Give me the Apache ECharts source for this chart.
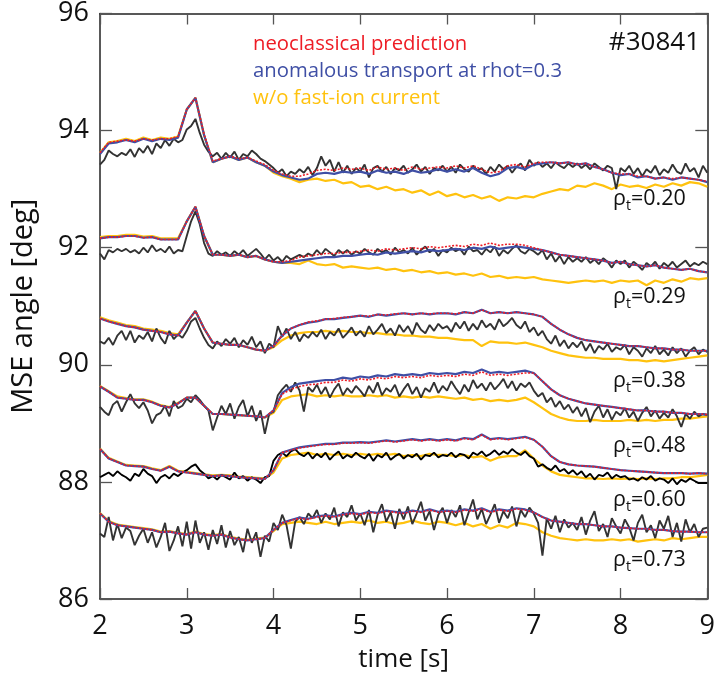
<!DOCTYPE html>
<html>
<head>
<meta charset="utf-8">
<script src="https://cdn.jsdelivr.net/npm/echarts@6/dist/echarts.min.js"></script>
<style>
html,body{margin:0;padding:0;background:#fff;}
#chart{width:718px;height:678px;}
</style>
</head>
<body>
<div id="chart"></div>
<script>
// time grid settings
const T0 = 2, DT_MEAS = 0.05, DT_MODEL = 0.1;
const xTicks = [2, 3, 4, 5, 6, 7, 8, 9];
const yTicks = [86, 88, 90, 92, 94, 96];
const rhoLabels = ['0.20', '0.29', '0.38', '0.48', '0.60', '0.73'];
const legendTexts = ['neoclassical prediction', 'anomalous transport at rhot=0.3', 'w/o fast-ion current'];
const shotLabel = '#30841';

// ---------- rho_t = 0.20 ----------
const g1Meas = [
93.42,93.50,93.66,93.60,93.56,93.62,93.58,93.68,93.55,93.70,
93.62,93.74,93.60,93.78,93.70,93.84,93.74,93.86,93.80,93.84,
94.02,94.08,94.20,93.96,93.76,93.64,93.56,93.62,93.52,93.62,
93.54,93.64,93.50,93.60,93.56,93.66,93.60,93.52,93.48,93.42,
93.36,93.28,93.34,93.22,93.30,93.26,93.34,93.28,93.38,93.24,
93.36,93.56,93.40,93.50,93.30,93.46,93.28,93.40,93.26,93.36,
93.30,93.42,93.20,93.36,93.40,93.30,93.38,93.26,93.36,93.32,
93.40,93.28,93.34,93.42,93.30,93.38,93.26,93.36,93.32,93.40,
93.30,93.38,93.28,93.42,93.34,93.30,93.40,93.32,93.36,93.26,
93.38,93.30,93.42,93.34,93.40,93.28,93.38,93.44,93.32,93.50,
93.40,93.46,93.38,93.44,93.36,93.46,93.40,93.36,93.44,93.38,
93.44,93.36,93.42,93.34,93.44,93.38,93.32,93.40,93.36,93.00,
93.36,93.30,93.40,93.26,93.36,93.22,93.34,93.28,93.40,93.24,
93.34,93.28,93.42,93.30,93.26,93.44,93.30,93.36,93.20,93.40,
93.28];
const g1Neo = [
93.62,93.80,93.82,93.84,93.82,93.86,93.84,93.86,93.86,93.90,
94.36,94.56,93.94,93.48,93.52,93.56,93.52,93.54,93.48,93.42,
93.32,93.26,93.22,93.22,93.26,93.32,93.34,93.32,93.36,93.34,
93.36,93.32,93.38,93.34,93.36,93.32,93.38,93.34,93.36,93.38,
93.36,93.40,93.36,93.40,93.34,93.28,93.30,93.40,93.42,93.38,
93.44,93.46,93.46,93.44,93.46,93.42,93.44,93.38,93.34,93.28,
93.26,93.26,93.22,93.22,93.18,93.20,93.18,93.20,93.18,93.16,
93.13];
const g1Anom = [
93.60,93.78,93.80,93.84,93.80,93.86,93.82,93.86,93.84,93.88,
94.36,94.56,93.92,93.46,93.52,93.56,93.50,93.54,93.46,93.40,
93.30,93.24,93.20,93.16,93.18,93.26,93.28,93.26,93.30,93.28,
93.30,93.26,93.32,93.28,93.30,93.26,93.32,93.28,93.30,93.34,
93.30,93.34,93.30,93.36,93.28,93.22,93.26,93.36,93.38,93.34,
93.42,93.44,93.46,93.44,93.46,93.42,93.44,93.38,93.34,93.28,
93.24,93.26,93.20,93.22,93.18,93.20,93.16,93.20,93.18,93.16,
93.12];
const g1NoFI = [
93.62,93.80,93.82,93.86,93.82,93.88,93.84,93.88,93.86,93.90,
94.36,94.56,93.92,93.46,93.52,93.56,93.50,93.54,93.46,93.40,
93.28,93.22,93.18,93.12,93.16,93.18,93.14,93.16,93.10,93.12,
93.04,93.06,93.00,93.04,92.98,93.00,92.94,92.98,92.90,92.96,
92.88,92.92,92.86,92.90,92.84,92.88,92.80,92.86,92.84,92.88,
92.86,92.92,92.96,93.00,92.98,93.06,93.04,93.10,93.06,93.00,
93.08,93.04,93.06,93.02,93.08,93.04,93.10,93.06,93.12,93.10,
93.04];

// ---------- rho_t = 0.29 ----------
const g2Meas = [
91.90,91.80,91.96,91.92,91.98,91.94,91.98,91.92,91.96,91.90,
92.00,91.92,92.04,91.94,91.98,91.92,92.02,91.90,91.96,91.94,
92.20,92.45,92.62,92.40,92.08,91.90,91.86,91.94,91.88,91.92,
91.86,91.94,91.88,91.96,91.86,91.92,91.98,91.90,91.80,91.88,
91.78,91.84,91.76,91.86,91.80,91.84,91.88,91.84,91.90,91.86,
91.96,91.88,91.98,91.92,91.86,91.96,91.90,91.96,91.88,91.94,
91.90,91.98,91.92,91.88,91.98,91.92,91.96,91.88,92.00,91.92,
91.96,91.90,92.00,91.88,91.96,92.02,91.92,91.98,91.86,91.96,
91.92,92.00,91.94,91.98,91.88,92.02,91.94,91.96,91.88,91.98,
91.92,92.02,91.86,91.96,91.90,91.98,92.04,91.94,91.90,91.98,
91.94,91.88,91.96,91.80,91.90,91.76,91.86,91.72,91.84,91.76,
91.82,91.76,91.84,91.74,91.80,91.72,91.82,91.76,91.66,91.78,
91.72,91.78,91.66,91.76,91.70,91.62,91.74,91.68,91.76,91.64,
91.74,91.68,91.76,91.66,91.72,91.78,91.68,91.74,91.70,91.76,
91.72];
const g2Neo = [
92.16,92.18,92.18,92.20,92.20,92.17,92.18,92.14,92.14,92.14,
92.45,92.70,92.20,91.88,91.88,91.86,91.88,91.84,91.86,91.80,
91.76,91.76,91.78,91.84,91.86,91.88,91.90,91.90,91.92,91.92,
91.94,91.96,91.94,91.98,91.96,91.98,92.00,91.98,92.02,92.00,
92.02,92.04,92.02,92.06,92.04,92.08,92.04,92.06,92.06,92.04,
92.00,91.96,91.92,91.88,91.86,91.84,91.82,91.80,91.78,91.74,
91.76,91.72,91.70,91.68,91.70,91.66,91.64,91.62,91.64,91.60,
91.58];
const g2Anom = [
92.16,92.18,92.18,92.20,92.20,92.17,92.18,92.14,92.14,92.14,
92.45,92.70,92.20,91.88,91.88,91.86,91.88,91.84,91.86,91.80,
91.76,91.74,91.76,91.78,91.80,91.82,91.84,91.84,91.86,91.86,
91.88,91.90,91.88,91.92,91.90,91.92,91.94,91.92,91.96,91.94,
91.96,91.98,91.96,92.00,91.98,92.02,91.98,92.00,92.02,92.00,
91.98,91.96,91.92,91.88,91.86,91.84,91.82,91.80,91.78,91.74,
91.76,91.72,91.70,91.68,91.70,91.66,91.64,91.62,91.64,91.60,
91.58];
const g2NoFI = [
92.18,92.20,92.20,92.22,92.22,92.19,92.20,92.16,92.16,92.16,
92.45,92.70,92.20,91.88,91.88,91.86,91.88,91.84,91.86,91.80,
91.76,91.74,91.74,91.72,91.78,91.72,91.70,91.72,91.66,91.68,
91.66,91.64,91.66,91.62,91.64,91.60,91.62,91.58,91.60,91.56,
91.58,91.54,91.56,91.52,91.56,91.50,91.52,91.48,91.50,91.48,
91.50,91.46,91.44,91.42,91.40,91.42,91.44,91.42,91.44,91.40,
91.44,91.42,91.44,91.36,91.44,91.40,91.46,91.42,91.48,91.46,
91.48];

// ---------- rho_t = 0.38 ----------
const g3Meas = [
90.40,90.36,90.46,90.34,90.50,90.58,90.42,90.58,90.38,90.50,
90.44,90.56,90.40,90.62,90.46,90.36,90.58,90.44,90.52,90.46,
90.58,90.74,90.80,90.62,90.46,90.34,90.28,90.40,90.32,90.44,
90.36,90.46,90.30,90.42,90.34,90.48,90.30,90.40,90.20,90.36,
90.30,90.66,90.48,90.62,90.44,90.56,90.40,90.52,90.46,90.56,
90.48,90.60,90.44,90.56,90.50,90.62,90.46,90.54,90.64,90.50,
90.58,90.48,90.66,90.52,90.60,90.70,90.54,90.62,90.50,90.68,
90.56,90.66,90.52,90.72,90.60,90.54,90.68,90.58,90.70,90.62,
90.66,90.56,90.72,90.62,90.74,90.58,90.70,90.60,90.76,90.64,
90.70,90.60,90.78,90.66,90.72,90.80,90.68,90.62,90.74,90.56,
90.64,90.50,90.58,90.44,90.36,90.50,90.32,90.42,90.28,90.38,
90.30,90.40,90.24,90.36,90.20,90.32,90.26,90.36,90.22,90.30,
90.26,90.34,90.18,90.30,90.24,90.14,90.28,90.20,90.32,90.18,
90.26,90.16,90.30,90.20,90.28,90.14,90.24,90.30,90.18,90.26,
90.22];
const g3Neo = [
90.79,90.74,90.70,90.66,90.64,90.60,90.58,90.56,90.52,90.50,
90.72,90.92,90.62,90.38,90.36,90.34,90.34,90.30,90.26,90.24,
90.32,90.50,90.62,90.68,90.73,90.75,90.78,90.79,90.81,90.82,
90.84,90.83,90.86,90.85,90.87,90.88,90.86,90.88,90.87,90.88,
90.88,90.87,90.90,90.88,90.94,90.88,90.90,90.88,90.90,90.88,
90.86,90.82,90.70,90.60,90.52,90.46,90.42,90.40,90.38,90.36,
90.34,90.32,90.32,90.30,90.28,90.28,90.26,90.26,90.24,90.24,
90.24];
const g3Anom = [
90.79,90.74,90.70,90.66,90.64,90.60,90.58,90.56,90.52,90.50,
90.72,90.92,90.62,90.38,90.36,90.34,90.34,90.30,90.26,90.24,
90.32,90.50,90.62,90.68,90.72,90.74,90.78,90.78,90.80,90.82,
90.84,90.82,90.86,90.84,90.86,90.88,90.86,90.88,90.86,90.88,
90.88,90.86,90.90,90.88,90.94,90.88,90.90,90.88,90.90,90.88,
90.86,90.82,90.70,90.60,90.52,90.46,90.42,90.40,90.38,90.36,
90.34,90.32,90.32,90.30,90.28,90.28,90.26,90.26,90.24,90.24,
90.24];
const g3NoFI = [
90.81,90.76,90.72,90.68,90.66,90.62,90.60,90.58,90.54,90.52,
90.72,90.92,90.62,90.38,90.36,90.34,90.34,90.30,90.26,90.24,
90.30,90.42,90.50,90.54,90.56,90.56,90.58,90.56,90.58,90.56,
90.56,90.54,90.54,90.52,90.52,90.50,90.50,90.48,90.48,90.46,
90.46,90.44,90.42,90.42,90.32,90.40,90.38,90.38,90.36,90.38,
90.34,90.30,90.24,90.20,90.16,90.14,90.12,90.12,90.10,90.10,
90.10,90.08,90.08,90.06,90.08,90.06,90.08,90.10,90.12,90.14,
90.16];

// ---------- rho_t = 0.48 ----------
const g4Meas = [
89.28,89.20,89.14,89.32,89.38,89.20,89.36,89.50,89.34,89.26,
89.36,89.22,89.00,89.14,89.18,89.30,89.12,89.38,89.26,89.30,
89.42,89.36,89.48,89.40,89.30,89.22,88.88,89.10,89.30,89.16,
89.34,89.08,89.28,89.40,89.12,89.30,89.04,89.22,88.82,89.16,
89.20,89.48,89.58,89.66,89.54,89.70,89.56,89.20,89.62,89.54,
89.66,89.50,89.62,89.44,89.58,89.68,89.48,89.60,89.52,89.64,
89.56,89.46,89.64,89.52,89.70,89.48,89.60,89.54,89.66,89.46,
89.58,89.68,89.50,89.62,89.44,89.60,89.54,89.70,89.52,89.64,
89.56,89.72,89.60,89.50,89.66,89.54,89.74,89.60,89.68,89.56,
89.70,89.58,89.66,89.76,89.60,89.72,89.56,89.68,89.62,89.70,
89.56,89.46,89.52,89.36,89.44,89.28,89.38,89.24,89.32,89.18,
89.28,89.12,89.26,89.02,89.20,89.30,89.10,89.24,89.06,89.20,
89.14,89.26,89.10,89.20,89.04,89.18,89.28,89.12,89.22,89.08,
89.18,89.10,89.24,89.12,88.94,89.16,89.08,89.20,89.12,89.16,
89.14];
const g4Neo = [
89.63,89.54,89.44,89.42,89.40,89.40,89.36,89.30,89.27,89.34,
89.44,89.44,89.30,89.16,89.16,89.15,89.14,89.13,89.12,89.10,
89.22,89.50,89.58,89.63,89.66,89.67,89.70,89.70,89.74,89.72,
89.76,89.74,89.78,89.76,89.80,89.78,89.80,89.78,89.82,89.80,
89.82,89.80,89.84,89.82,89.88,89.82,89.84,89.82,89.84,89.86,
89.86,89.72,89.58,89.48,89.42,89.38,89.34,89.32,89.30,89.28,
89.26,89.24,89.22,89.22,89.20,89.20,89.18,89.18,89.16,89.16,
89.15];
const g4Anom = [
89.63,89.54,89.44,89.42,89.40,89.40,89.36,89.30,89.27,89.34,
89.44,89.44,89.30,89.16,89.16,89.15,89.14,89.13,89.12,89.10,
89.22,89.52,89.62,89.68,89.70,89.72,89.74,89.74,89.78,89.76,
89.80,89.78,89.82,89.80,89.84,89.82,89.84,89.82,89.86,89.84,
89.86,89.84,89.88,89.86,89.92,89.86,89.88,89.86,89.88,89.90,
89.86,89.72,89.58,89.48,89.42,89.38,89.34,89.32,89.30,89.28,
89.26,89.24,89.22,89.22,89.20,89.20,89.18,89.18,89.16,89.16,
89.15];
const g4NoFI = [
89.64,89.55,89.46,89.43,89.41,89.41,89.37,89.31,89.28,89.35,
89.44,89.44,89.30,89.16,89.16,89.15,89.14,89.13,89.12,89.10,
89.18,89.40,89.46,89.48,89.50,89.46,89.48,89.46,89.48,89.46,
89.46,89.48,89.46,89.48,89.44,89.46,89.44,89.46,89.44,89.46,
89.44,89.42,89.44,89.40,89.42,89.38,89.40,89.38,89.40,89.44,
89.36,89.26,89.16,89.10,89.06,89.04,89.04,89.06,89.04,89.04,
89.04,89.06,89.04,89.06,89.04,89.06,89.06,89.08,89.08,89.10,
89.12];

// ---------- rho_t = 0.60 ----------
const g5Meas = [
88.08,88.12,88.16,88.10,88.18,88.12,88.08,88.02,88.14,88.10,
88.22,88.14,88.10,87.98,88.08,88.12,88.06,88.14,88.10,88.16,
88.20,88.26,88.30,88.20,88.14,88.06,88.10,88.04,88.12,88.08,
88.04,88.16,88.06,88.10,88.02,88.08,88.04,87.98,88.08,88.10,
88.36,88.46,88.50,88.44,88.52,88.56,88.48,88.44,88.50,88.40,
88.48,88.42,88.50,88.38,88.46,88.52,88.40,88.46,88.42,88.50,
88.44,88.40,88.48,88.36,88.46,88.42,88.50,88.38,88.44,88.48,
88.40,88.46,88.42,88.48,88.38,88.46,88.44,88.50,88.42,88.46,
88.44,88.50,88.42,88.48,88.46,88.40,88.50,88.46,88.52,88.44,
88.48,88.54,88.46,88.52,88.48,88.56,88.50,88.46,88.52,88.44,
88.40,88.26,88.30,88.24,88.20,88.28,88.18,88.22,88.14,88.20,
88.12,88.18,88.08,88.14,88.04,88.12,88.10,88.16,88.06,88.12,
88.08,88.10,88.04,88.06,88.02,88.08,88.04,88.10,88.02,88.06,
88.04,87.98,88.06,87.96,88.04,88.00,88.06,88.02,87.98,87.98,
87.98];
const g5Neo = [
88.56,88.40,88.34,88.28,88.27,88.26,88.22,88.19,88.26,88.18,
88.16,88.14,88.12,88.10,88.11,88.10,88.08,88.07,88.06,88.05,
88.20,88.50,88.54,88.58,88.60,88.62,88.64,88.64,88.66,88.66,
88.67,88.66,88.68,88.70,88.68,88.70,88.72,88.70,88.72,88.70,
88.72,88.70,88.74,88.72,88.80,88.72,88.74,88.72,88.74,88.76,
88.72,88.60,88.44,88.34,88.30,88.28,88.27,88.26,88.24,88.22,
88.20,88.19,88.18,88.17,88.16,88.15,88.15,88.15,88.14,88.15,
88.14];
const g5Anom = [
88.56,88.40,88.34,88.28,88.27,88.26,88.22,88.19,88.26,88.18,
88.16,88.14,88.12,88.10,88.11,88.10,88.08,88.07,88.06,88.05,
88.20,88.50,88.55,88.59,88.61,88.63,88.65,88.65,88.67,88.67,
88.68,88.67,88.69,88.71,88.69,88.71,88.73,88.71,88.73,88.71,
88.73,88.71,88.75,88.73,88.81,88.73,88.75,88.73,88.75,88.77,
88.72,88.60,88.44,88.34,88.30,88.28,88.27,88.26,88.24,88.22,
88.20,88.19,88.18,88.17,88.16,88.15,88.15,88.15,88.14,88.15,
88.14];
const g5NoFI = [
88.57,88.41,88.35,88.29,88.28,88.27,88.23,88.20,88.27,88.19,
88.17,88.15,88.13,88.11,88.12,88.11,88.09,88.08,88.07,88.06,
88.16,88.40,88.46,88.48,88.50,88.46,88.48,88.46,88.48,88.46,
88.48,88.46,88.48,88.46,88.48,88.44,88.46,88.44,88.48,88.46,
88.46,88.44,88.46,88.42,88.44,88.36,88.42,88.44,88.44,88.54,
88.40,88.28,88.18,88.12,88.10,88.08,88.06,88.06,88.05,88.06,
88.05,88.06,88.05,88.06,88.05,88.06,88.06,88.08,88.08,88.10,
88.12];

// ---------- rho_t = 0.73 ----------
const g6Meas = [
87.12,87.06,87.40,87.00,87.28,87.04,87.22,87.16,86.92,87.08,
87.20,86.96,87.14,86.88,87.06,87.30,86.82,87.00,87.24,86.90,
87.32,86.86,87.34,86.96,87.14,86.84,87.18,86.94,87.26,86.88,
87.16,86.92,87.06,86.80,87.20,86.96,87.14,86.72,87.08,86.98,
87.30,87.18,87.44,87.26,86.86,87.32,87.40,87.28,87.46,87.38,
87.52,87.30,87.46,87.36,87.56,87.24,87.48,87.40,87.60,87.34,
87.46,87.26,87.52,87.14,87.44,87.62,87.32,87.48,87.20,87.54,
87.36,87.58,87.28,87.46,87.66,87.34,87.50,87.18,87.44,87.56,
87.30,87.52,87.40,87.60,87.26,87.48,87.70,87.36,87.54,87.28,
87.44,87.62,87.30,87.50,87.38,87.58,87.24,87.52,87.40,87.56,
87.46,87.30,86.74,87.38,87.20,87.42,87.14,87.36,87.22,87.30,
87.18,87.40,87.10,87.34,87.50,87.16,87.28,87.06,87.38,87.24,
87.12,87.36,87.22,87.00,87.30,87.44,87.14,87.26,87.04,87.34,
87.20,87.42,87.06,87.30,86.98,87.36,87.14,87.28,87.06,87.20,
87.22];
const g6Neo = [
87.46,87.32,87.26,87.24,87.22,87.20,87.18,87.14,87.15,87.12,
87.10,87.14,87.10,87.08,87.10,87.05,87.02,87.00,87.02,87.04,
87.18,87.30,87.34,87.38,87.36,87.40,87.42,87.40,87.44,87.46,
87.44,87.48,87.46,87.50,87.48,87.46,87.50,87.48,87.52,87.48,
87.50,87.48,87.52,87.50,87.54,87.48,87.52,87.50,87.54,87.52,
87.48,87.40,87.34,87.32,87.30,87.28,87.28,87.26,87.24,87.24,
87.22,87.21,87.20,87.20,87.18,87.18,87.16,87.15,87.15,87.14,
87.14];
const g6Anom = [
87.46,87.32,87.26,87.24,87.22,87.20,87.18,87.14,87.15,87.12,
87.10,87.14,87.10,87.08,87.10,87.05,87.02,87.00,87.02,87.04,
87.18,87.30,87.35,87.39,87.37,87.41,87.43,87.41,87.45,87.47,
87.45,87.49,87.47,87.51,87.49,87.47,87.51,87.49,87.53,87.49,
87.51,87.49,87.53,87.51,87.55,87.49,87.53,87.51,87.55,87.53,
87.48,87.40,87.34,87.32,87.30,87.28,87.28,87.26,87.24,87.24,
87.22,87.21,87.20,87.20,87.18,87.18,87.16,87.15,87.15,87.14,
87.14];
const g6NoFI = [
87.47,87.33,87.27,87.25,87.23,87.21,87.19,87.15,87.16,87.13,
87.11,87.15,87.11,87.09,87.11,87.06,87.03,87.01,87.03,87.05,
87.16,87.28,87.30,87.32,87.30,87.28,87.32,87.28,87.30,87.32,
87.30,87.34,87.30,87.32,87.28,87.30,87.34,87.30,87.28,87.32,
87.30,87.26,87.30,87.24,87.28,87.20,87.26,87.22,87.30,87.28,
87.24,87.14,87.08,87.04,87.02,87.00,87.02,87.00,87.00,87.02,
87.00,87.02,86.98,87.00,87.02,87.00,87.04,87.02,87.04,87.06,
87.06];

const groups = [
  {meas: g1Meas, neo: g1Neo, anom: g1Anom, nofi: g1NoFI},
  {meas: g2Meas, neo: g2Neo, anom: g2Anom, nofi: g2NoFI},
  {meas: g3Meas, neo: g3Neo, anom: g3Anom, nofi: g3NoFI},
  {meas: g4Meas, neo: g4Neo, anom: g4Anom, nofi: g4NoFI},
  {meas: g5Meas, neo: g5Neo, anom: g5Anom, nofi: g5NoFI},
  {meas: g6Meas, neo: g6Neo, anom: g6Anom, nofi: g6NoFI}
];

// ---------- styling ----------
const FONT = '"Open Sans", "Noto Sans", sans-serif';
const C_RED = '#ee1c25', C_BLUE = '#3f4fa5', C_GOLD = '#ffc20e', C_BLACK = '#333333';
const rhoPos = [199, 297, 381, 446, 500, 560];
const legendY = [44, 71, 98];
const legendColors = [C_RED, C_BLUE, C_GOLD];

function pairs(arr, dt) {
  return arr.map((v, i) => [Math.round((T0 + i * dt) * 1000) / 1000, v]);
}

const series = [];
groups.forEach((g, gi) => {
  series.push({type: 'line', data: pairs(g.nofi, DT_MODEL), showSymbol: false, silent: true,
    lineStyle: {color: C_GOLD, width: 2.2}, z: 2});
  series.push({type: 'line', data: pairs(g.meas, DT_MEAS), showSymbol: false, silent: true,
    lineStyle: {color: gi === 4 ? '#000000' : C_BLACK, width: 1.9}, z: 3});
  series.push({type: 'line', data: pairs(g.anom, DT_MODEL), showSymbol: false, silent: true,
    lineStyle: {color: C_BLUE, width: 2.2}, z: 4});
  series.push({type: 'line', data: pairs(g.neo, DT_MODEL), showSymbol: false, silent: true,
    lineStyle: {color: C_RED, width: 1.6, type: [2, 1.6]}, z: 5});
});

const graphics = [];
legendTexts.forEach((t, i) => {
  graphics.push({type: 'text', x: 253, y: legendY[i],
    style: {text: t, fill: legendColors[i], font: '20.3px ' + FONT, textVerticalAlign: 'middle', verticalAlign: 'middle'}});
});
graphics.push({type: 'text', x: 700, y: 43,
  style: {text: shotLabel, fill: '#111', font: '26px ' + FONT, textAlign: 'right', align: 'right', textVerticalAlign: 'middle', verticalAlign: 'middle'}});
rhoLabels.forEach((r, i) => {
  graphics.push({type: 'text', x: 613, y: rhoPos[i],
    style: {
      text: '{a|ρ}{b|t}{a|=' + r + '}',
      rich: {
        a: {fontSize: 21.5, fontFamily: FONT, fill: '#111', color: '#111', lineHeight: 28, verticalAlign: 'middle'},
        b: {fontSize: 14, fontFamily: FONT, fill: '#111', color: '#111', lineHeight: 28, verticalAlign: 'bottom'}
      },
      textVerticalAlign: 'middle', verticalAlign: 'middle'
    }});
});

const axisCommon = {
  type: 'value', min: 2, max: 9, interval: 1,
  axisLine: {show: true, onZero: false, lineStyle: {color: '#222', width: 1.5}},
  axisTick: {show: true, inside: true, length: 11, lineStyle: {color: '#555', width: 1.3}},
  splitLine: {show: false}
};
const yCommon = {
  type: 'value', min: 86, max: 96, interval: 2,
  axisLine: {show: true, onZero: false, lineStyle: {color: '#222', width: 1.5}},
  axisTick: {show: true, inside: true, length: 12, lineStyle: {color: '#555', width: 1.3}},
  splitLine: {show: false}
};

const option = {
  animation: false,
  backgroundColor: '#ffffff',
  grid: {left: 100, right: 7, top: 11, bottom: 77, containLabel: false},
  xAxis: [
    Object.assign({}, axisCommon, {position: 'bottom',
      axisLabel: {show: true, fontSize: 27, fontFamily: FONT, color: '#111', margin: 14,
        formatter: v => (xTicks.indexOf(v) >= 0 ? String(v) : '')},
      name: 'time [s]', nameLocation: 'middle', nameGap: 48,
      nameTextStyle: {fontSize: 26, fontFamily: FONT, color: '#111'}}),
    Object.assign({}, axisCommon, {position: 'top', axisLabel: {show: false}})
  ],
  yAxis: [
    Object.assign({}, yCommon, {position: 'left',
      axisLabel: {show: true, fontSize: 27, fontFamily: FONT, color: '#111', margin: 11,
        formatter: v => (yTicks.indexOf(v) >= 0 ? String(v) : '')},
      name: 'MSE angle [deg]', nameLocation: 'middle', nameGap: 62, nameRotate: 90,
      nameTextStyle: {fontSize: 29, fontFamily: FONT, color: '#111'}}),
    Object.assign({}, yCommon, {position: 'right', axisLabel: {show: false}})
  ],
  series: series,
  graphic: graphics
};

const chart = echarts.init(document.getElementById('chart'), null, {renderer: 'canvas'});
chart.setOption(option);
</script>
</body>
</html>
